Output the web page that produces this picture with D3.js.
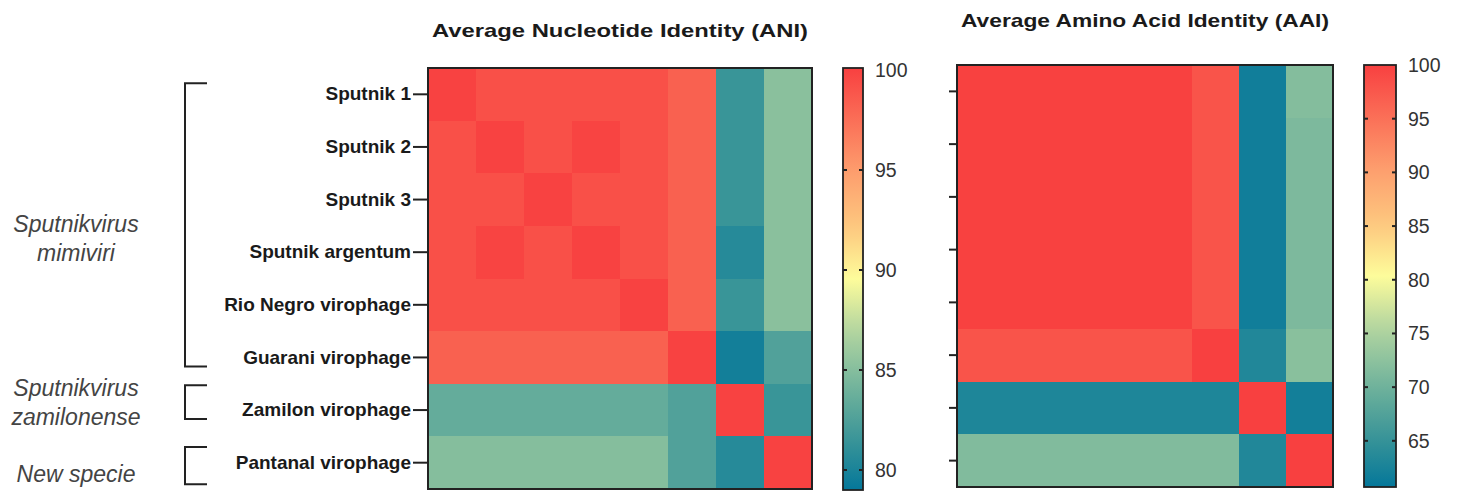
<!DOCTYPE html>
<html>
<head>
  <meta charset="utf-8">
  <script src="https://d3js.org/d3.v7.min.js"></script>
  <style>
    body { margin: 0; background: #fff; }
    text { font-family: "Liberation Sans", Arial, sans-serif; }
  </style>
</head>
<body>
<div id="chart"></div>
<script>
    var width = 1460;
    var height = 493;

    // genomes, same order for rows and columns
    var genomes = ["Sputnik 1", "Sputnik 2", "Sputnik 3", "Sputnik argentum",
                   "Rio Negro virophage", "Guarani virophage", "Zamilon virophage", "Pantanal virophage"];

    // ANI matrix (%), row by row
    var ani = [
      [100.0, 99.2, 99.2, 99.2, 99.2, 98.3, 81.5, 85.2],
      [99.2, 100.0, 99.2, 99.9, 99.2, 98.3, 81.5, 85.2],
      [99.2, 99.2, 100.0, 99.2, 99.2, 98.3, 81.5, 85.2],
      [99.2, 99.9, 99.2, 100.0, 99.2, 98.3, 80.6, 85.2],
      [99.2, 99.2, 99.2, 99.2, 100.0, 98.3, 81.5, 85.2],
      [98.3, 98.3, 98.3, 98.3, 98.3, 100.0, 79.7, 82.6],
      [83.5, 83.5, 83.5, 83.5, 83.5, 82.6, 100.0, 81.5],
      [85.0, 85.0, 85.0, 85.0, 85.0, 82.6, 80.6, 100.0]
    ];

    // AAI matrix (%), row by row
    var aai = [
      [99.9, 99.9, 99.9, 99.9, 99.9, 98.0, 61.8, 71.8],
      [99.9, 99.9, 99.9, 99.9, 99.9, 98.0, 61.8, 71.2],
      [99.9, 99.9, 99.9, 99.9, 99.9, 98.0, 61.8, 71.2],
      [99.9, 99.9, 99.9, 99.9, 99.9, 98.0, 61.8, 71.2],
      [99.9, 99.9, 99.9, 99.9, 99.9, 98.0, 61.8, 71.2],
      [98.0, 98.0, 98.0, 98.0, 98.0, 100.0, 63.2, 72.2],
      [63.0, 63.0, 63.0, 63.0, 63.0, 63.0, 100.0, 62.0],
      [71.5, 71.5, 71.5, 71.5, 71.5, 71.5, 63.2, 100.0]
    ];

    // species groups: label lines, first and last row (fractional row units for the bracket)
    var groupLabels = [["Sputnikvirus", "mimiviri"], ["Sputnikvirus", "zamilonense"], ["New specie"]];
    var groupSpans = [[0.29, 5.67], [6.03, 6.67], [7.2, 7.91]];
    var groupShift = [14, 0, 8];

    var aniTicks = [80, 85, 90, 95, 100];
    var aaiTicks = [65, 70, 75, 80, 85, 90, 95, 100];

    // colour ramp teal -> yellow -> red, sampled from the colour bars
    var rampStops = [0, 0.12, 0.25, 0.37, 0.5, 0.62, 0.75, 0.87, 1];
    var rampColors = ["#04779a", "#3a9598", "#75b59c", "#aed3a0", "#fdfc9b",
                      "#fdc97f", "#fd9f6e", "#fa7259", "#f84040"];
    var ramp = d3.scaleLinear().domain(rampStops).range(rampColors).interpolate(d3.interpolateRgb);

    var svg = d3.select("#chart").append("svg")
                .attr("width", width).attr("height", height);

    var defs = svg.append("defs");

    var drawHeatmap = function(id, matrix, box, domain, title, titleY) {
      var x = d3.scaleBand().domain(d3.range(8)).range([box[0], box[1]]);
      var y = d3.scaleBand().domain(d3.range(8)).range([box[2], box[3]]);
      var t = d3.scaleLinear().domain(domain).range([0, 1]).clamp(true);
      var g = svg.append("g").attr("id", id);

      var cells = [];
      matrix.forEach(function(row, i) {
        row.forEach(function(v, j) { cells.push({r: i, c: j, v: v}); });
      });

      g.selectAll("rect.cell").data(cells).enter().append("rect")
        .attr("class", "cell")
        .attr("x", function(d) { return Math.round(x(d.c)); })
        .attr("y", function(d) { return Math.round(y(d.r)); })
        .attr("width", function(d) { return Math.round(x(d.c) + x.bandwidth()) - Math.round(x(d.c)); })
        .attr("height", function(d) { return Math.round(y(d.r) + y.bandwidth()) - Math.round(y(d.r)); })
        .attr("shape-rendering", "crispEdges")
        .attr("fill", function(d) { return ramp(t(d.v)); });

      g.append("rect")
        .attr("x", box[0]).attr("y", box[2])
        .attr("width", box[1] - box[0]).attr("height", box[3] - box[2])
        .attr("fill", "none").attr("stroke", "#222").attr("stroke-width", 2);

      g.append("text")
        .attr("x", (box[0] + box[1]) / 2).attr("y", titleY)
        .attr("text-anchor", "middle")
        .attr("font-size", 19).attr("font-weight", "bold").attr("fill", "#1a1a1a")
        .attr("textLength", box[1] - box[0] - 8).attr("lengthAdjust", "spacingAndGlyphs")
        .text(title);

      return y;
    };

    var drawColorbar = function(id, box, domain, ticks) {
      var grad = defs.append("linearGradient").attr("id", id)
        .attr("x1", 0).attr("y1", 1).attr("x2", 0).attr("y2", 0);
      d3.range(0, 1.0001, 0.05).forEach(function(s) {
        grad.append("stop").attr("offset", s).attr("stop-color", ramp(s));
      });

      var y = d3.scaleLinear().domain(domain).range([box[3], box[2]]);
      var g = svg.append("g");
      g.append("rect")
        .attr("x", box[0]).attr("y", box[2])
        .attr("width", box[1] - box[0]).attr("height", box[3] - box[2])
        .attr("fill", "url(#" + id + ")")
        .attr("stroke", "#222").attr("stroke-width", 1.8);

      var tk = g.selectAll("g.tk").data(ticks).enter().append("g").attr("class", "tk");
      tk.filter(function(d) { return d < domain[1] - 0.5; }).each(function(d) {
        var s = d3.select(this);
        s.append("line").attr("x1", box[0]).attr("x2", box[0] + 4)
          .attr("y1", y(d)).attr("y2", y(d)).attr("stroke", "#222").attr("stroke-width", 2);
        s.append("line").attr("x1", box[1] - 4).attr("x2", box[1])
          .attr("y1", y(d)).attr("y2", y(d)).attr("stroke", "#222").attr("stroke-width", 2);
      });
      tk.append("text")
        .attr("x", box[1] + 12).attr("y", function(d) { return y(d); })
        .attr("dy", "0.36em")
        .attr("font-size", 19.5).attr("fill", "#333")
        .text(function(d) { return d; });
    };

    // ANI
    var yAni = drawHeatmap("ani", ani, [428, 812, 68, 489], [79, 100.1],
                           "Average Nucleotide Identity (ANI)", 37);
    drawColorbar("gradAni", [843, 863, 68, 490], [79, 100.1], aniTicks);

    // AAI
    var yAai = drawHeatmap("aai", aai, [957, 1333, 65, 487], [60.7, 100],
                           "Average Amino Acid Identity (AAI)", 27);
    drawColorbar("gradAai", [1364, 1396, 65, 487], [60.7, 100], aaiTicks);

    // row labels on ANI
    var yLab = d3.scaleBand().domain(genomes).range([68, 489]);
    var axAni = svg.append("g").attr("transform", "translate(428,0)")
      .call(d3.axisLeft(yLab).tickSize(15).tickPadding(2));
    axAni.select(".domain").remove();
    axAni.selectAll("line").attr("stroke", "#222").attr("stroke-width", 2);
    axAni.selectAll("text").attr("font-size", 19).attr("font-weight", "bold")
      .attr("fill", "#1a1a1a").attr("font-family", "Liberation Sans, Arial, sans-serif");

    // short ticks on AAI
    var yLab2 = d3.scaleBand().domain(genomes).range([65, 487]);
    var axAai = svg.append("g").attr("transform", "translate(957,0)")
      .call(d3.axisLeft(yLab2).tickSize(8).tickFormat(""));
    axAai.select(".domain").remove();
    axAai.selectAll("line").attr("stroke", "#222").attr("stroke-width", 2);

    // species brackets
    var rowY = d3.scaleLinear().domain([0, 8]).range([68, 489]);
    var gb = svg.append("g");
    groupSpans.forEach(function(s, i) {
      var y1 = rowY(s[0]), y2 = rowY(s[1]);
      gb.append("path")
        .attr("d", "M207," + y1 + "H185V" + y2 + "H207")
        .attr("fill", "none").attr("stroke", "#222").attr("stroke-width", 2);
      var lines = groupLabels[i];
      var mid = (y1 + y2) / 2 + groupShift[i];
      var lab = gb.append("text")
        .attr("x", 76).attr("text-anchor", "middle")
        .attr("font-size", 23).attr("font-style", "italic").attr("fill", "#444");
      lines.forEach(function(l, k) {
        lab.append("tspan").attr("x", 76)
          .attr("y", mid + 8 + (k - (lines.length - 1) / 2) * 29)
          .text(l);
      });
    });
</script>
</body>
</html>
